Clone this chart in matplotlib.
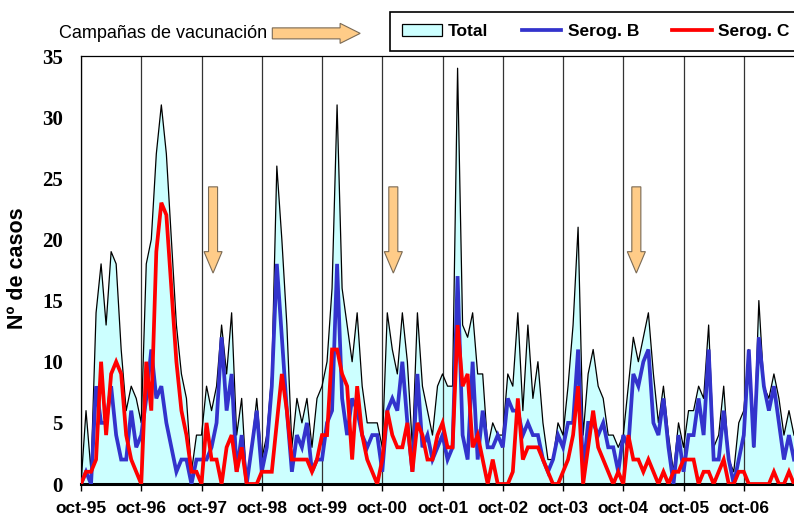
import matplotlib
matplotlib.use("Agg")
import matplotlib.pyplot as plt
from matplotlib.patches import Patch, Polygon
from matplotlib.lines import Line2D

# ── data (monthly cases, oct-95 .. aug-07) ───────────────
total = [
    0, 6, 1, 14, 18, 13, 19, 18, 11, 6, 8, 7,
    5, 18, 20, 27, 31, 27, 20, 13, 9, 7, 1, 4,
    4, 8, 6, 8, 13, 9, 14, 4, 7, 0, 3, 7,
    2, 4, 9, 26, 20, 13, 3, 7, 5, 7, 3, 7,
    8, 10, 16, 31, 16, 13, 10, 14, 8, 5, 5, 5,
    3, 14, 11, 9, 14, 10, 3, 14, 8, 6, 4, 8,
    9, 8, 8, 34, 13, 12, 14, 9, 9, 3, 5, 4,
    4, 9, 8, 14, 6, 13, 7, 10, 5, 2, 2, 5,
    4, 8, 13, 21, 4, 9, 11, 8, 7, 4, 4, 3,
    4, 8, 12, 10, 12, 14, 9, 5, 8, 4, 1, 5,
    3, 6, 6, 8, 7, 13, 3, 4, 8, 2, 1, 5,
    6, 11, 3, 15, 8, 7, 9, 7, 4, 6, 4,
]
serog_b = [
    0, 1, 0, 8, 5, 5, 8, 4, 2, 2, 6, 3,
    4, 7, 11, 7, 8, 5, 3, 1, 2, 2, 0, 2,
    2, 2, 3, 5, 12, 6, 9, 1, 4, 0, 3, 6,
    1, 3, 8, 18, 12, 6, 1, 4, 3, 5, 1, 2,
    2, 5, 6, 18, 7, 4, 7, 6, 4, 3, 4, 4,
    1, 6, 7, 6, 10, 5, 1, 9, 3, 4, 2, 3,
    4, 2, 3, 17, 4, 2, 10, 2, 6, 3, 3, 4,
    3, 7, 6, 6, 4, 5, 4, 4, 2, 1, 2, 4,
    3, 5, 5, 11, 1, 5, 5, 4, 5, 3, 3, 1,
    4, 3, 9, 8, 10, 11, 5, 4, 7, 3, 0, 4,
    1, 4, 4, 7, 4, 11, 2, 2, 6, 2, 0, 2,
    4, 11, 3, 12, 8, 6, 8, 5, 2, 4, 2,
]
serog_c = [
    0, 1, 1, 2, 10, 4, 9, 10, 9, 4, 2, 1,
    0, 10, 6, 19, 23, 22, 16, 10, 6, 4, 1, 1,
    0, 5, 2, 2, 0, 3, 4, 1, 3, 0, 0, 0,
    1, 1, 1, 5, 9, 6, 2, 2, 2, 2, 1, 2,
    4, 4, 11, 11, 9, 8, 2, 8, 4, 2, 1, 0,
    2, 6, 4, 3, 3, 5, 1, 5, 4, 2, 2, 4,
    5, 3, 3, 13, 8, 9, 3, 4, 2, 0, 2, 0,
    0, 0, 1, 7, 2, 3, 3, 3, 2, 1, 0, 0,
    1, 2, 4, 8, 0, 3, 6, 3, 2, 1, 0, 1,
    0, 4, 2, 2, 1, 2, 1, 0, 1, 0, 1, 1,
    2, 2, 2, 0, 1, 1, 0, 1, 2, 0, 0, 1,
    1, 0, 0, 0, 0, 0, 1, 0, 0, 1, 0,
]
tick_labels = ["oct-95", "oct-96", "oct-97", "oct-98", "oct-99", "oct-00",
               "oct-01", "oct-02", "oct-03", "oct-04", "oct-05", "oct-06"]
campaign_months = [26.3, 62.2, 110.6]   # vaccination campaigns (month index)

months = list(range(len(total)))

_FILL = "#CCFFFF"
_BLUE = "#3333CC"
_RED = "#FF0000"
_ARROW_FACE = "#FFCC88"
_ARROW_EDGE = "#7A6A55"

SANS = "Liberation Sans"
SERIF = "Liberation Serif"

# ── figure ───────────────────────────────────
W, H = 794, 520
fig = plt.figure(figsize=(W / 100, H / 100), dpi=100)
ax = fig.add_axes([81 / W, 36 / H, 713 / W, 428 / H])

ax.fill_between(months, total, 0, facecolor=_FILL, edgecolor="none", zorder=1)
ax.plot(months, total, color="black", lw=0.9, zorder=2)
ax.plot(months, serog_b, color=_BLUE, lw=2.7, zorder=3, solid_joinstyle="miter")
ax.plot(months, serog_c, color=_RED, lw=2.7, zorder=4, solid_joinstyle="miter")

ax.set_xlim(0, len(total) - 1)
ax.set_ylim(0, 35)
ax.set_xticks(range(0, 12 * len(tick_labels), 12))
ax.set_xticklabels(tick_labels, fontfamily=SANS, fontweight="bold", fontsize=12.5)
ax.set_yticks(range(0, 36, 5))
ax.set_yticklabels([str(v) for v in range(0, 36, 5)],
                   fontfamily=SERIF, fontweight="bold", fontsize=15)
ax.tick_params(axis="x", direction="out", length=5, width=1, pad=7.5)
ax.tick_params(axis="y", length=0, pad=13)

ax.set_axisbelow("line")
ax.grid(axis="x", color="#333333", lw=0.9)
ax.spines["right"].set_visible(False)
ax.spines["left"].set_linewidth(0.9)
ax.spines["top"].set_linewidth(0.9)
ax.spines["bottom"].set_linewidth(2.2)

fig.text(18 / W, 1 - 268 / H, "Nº de casos", rotation=90, ha="center",
         va="center", fontfamily=SANS, fontweight="bold", fontsize=15.5)


# ── campaign arrows (drawn in data units) ─────
def _down_arrow(xc, y_top=24.3, y_neck=19.0, y_tip=17.25, hw=0.9, hh=1.8):
    pts = [(xc - hw, y_top), (xc + hw, y_top), (xc + hw, y_neck),
           (xc + hh, y_neck), (xc, y_tip), (xc - hh, y_neck), (xc - hw, y_neck)]
    ax.add_patch(Polygon(pts, closed=True, facecolor=_ARROW_FACE,
                         edgecolor=_ARROW_EDGE, lw=0.8, zorder=5))


for m in campaign_months:
    _down_arrow(m)

# horizontal arrow next to the caption (above the axes)
x0, x1, xh = 38.1, 51.6, 55.6
yc, bh, hh = 36.85, 0.45, 0.82
ax.add_patch(Polygon(
    [(x0, yc - bh), (x1, yc - bh), (x1, yc - hh), (xh, yc), (x1, yc + hh),
     (x1, yc + bh), (x0, yc + bh)],
    closed=True, facecolor=_ARROW_FACE, edgecolor=_ARROW_EDGE, lw=0.8,
    clip_on=False, zorder=5))
fig.text(59 / W, 1 - 34 / H, "Campañas de vacunación", ha="left", va="center",
         fontfamily=SANS, fontsize=13)

# ── legend ────────────────────────────────────
handles = [
    Patch(facecolor=_FILL, edgecolor="black", lw=0.9),
    Line2D([], [], color=_BLUE, lw=2.7),
    Line2D([], [], color=_RED, lw=2.7),
]
leg = ax.legend(handles, ["Total", "Serog. B", "Serog. C"], ncol=3,
                loc="upper left", bbox_to_anchor=(390 / W, 1 - 12 / H),
                bbox_transform=fig.transFigure, frameon=True, fancybox=False,
                framealpha=1, edgecolor="black", borderaxespad=0,
                borderpad=0.7, handlelength=2.3, handletextpad=0.35,
                columnspacing=1.9,
                prop={"family": SANS, "weight": "bold", "size": 12.5})
leg.get_frame().set_linewidth(1.2)

fig.savefig("out.png", dpi=100)
plt.close(fig)
